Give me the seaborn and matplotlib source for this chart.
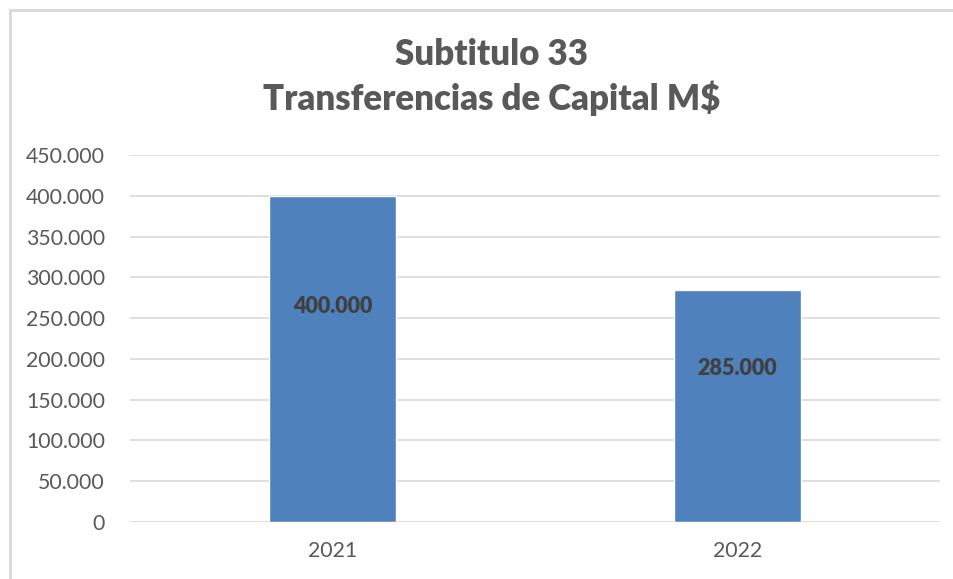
import pandas as pd
import matplotlib
matplotlib.use("Agg")
import matplotlib.pyplot as plt
import matplotlib.ticker as mticker
from matplotlib.patches import Rectangle
import seaborn as sns

# data
years = ["2021", "2022"]
amounts = [400000, 285000]
title = "Subtitulo 33\nTransferencias de Capital M$"

df = pd.DataFrame({"year": years, "amount": amounts})

sns.set_style("white")
plt.rcParams['font.family'] = ['Lato', 'DejaVu Sans']

fig = plt.figure(figsize=(9.54, 5.79), dpi=100)
ax = fig.add_axes([130 / 954, 1 - 522 / 579, 810 / 954, 367 / 579])

sns.barplot(x="year", y="amount", data=df, color="#4f81bd", width=0.315,
            saturation=1, ax=ax, zorder=3)

ax.set_ylim(0, 450000)
ax.set_yticks(range(0, 450001, 50000))

def fmt(v, pos=None):
    return f"{int(v):,}".replace(",", ".")

ax.yaxis.set_major_formatter(mticker.FuncFormatter(fmt))
ax.grid(axis="y", color="#d9d9d9", linewidth=1.2, zorder=0)
for s in ax.spines.values():
    s.set_visible(False)
ax.tick_params(axis="both", length=0, labelsize=15.3, labelcolor="#595959")
ax.tick_params(axis="y", pad=18)
ax.tick_params(axis="x", pad=14)
ax.set_xlabel("")
ax.set_ylabel("")

# value labels
for i, v in enumerate(amounts):
    ax.text(i, v * 0.66, fmt(v), ha="center", va="center", fontsize=15.5,
            fontweight="heavy", color="#404040", zorder=4)

fig.text(0.515, 1 - 77 / 579, title, ha="center", va="center", fontsize=25,
         fontweight="heavy", color="#595959", linespacing=1.35)

# chart border
fig.patches.append(Rectangle((10 / 954, -0.1), 1.2, 1.1 - 10 / 579,
                             transform=fig.transFigure, fill=False,
                             edgecolor="#d9d9d9", linewidth=2, figure=fig))

fig.savefig("out.png", dpi=100)
